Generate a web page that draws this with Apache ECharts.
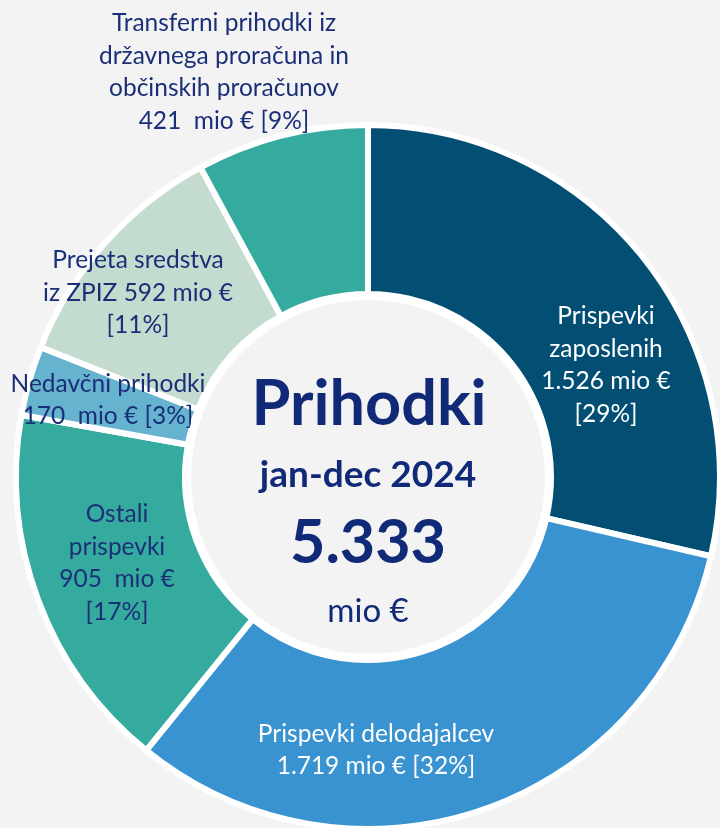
<!DOCTYPE html>
<html><head><meta charset="utf-8">
<script src="https://cdn.jsdelivr.net/npm/echarts@6/dist/echarts.min.js"></script>
<style>html,body{margin:0;padding:0;background:#f3f3f3}#c{width:720px;height:828px}</style>
</head><body><div id="c"></div>
<script>
const categories = ['Prispevki zaposlenih','Prispevki delodajalcev','Ostali prispevki','Nedavčni prihodki','Prejeta sredstva iz ZPIZ','Transferni prihodki iz državnega proračuna in občinskih proračunov'];
const values = [1526, 1719, 905, 170, 592, 421];
const percents = [29, 32, 17, 3, 11, 9];
const labelTexts = [
  'Prispevki\nzaposlenih\n1.526 mio €\n[29%]',
  'Prispevki delodajalcev\n1.719 mio € [32%]',
  'Ostali\nprispevki\n905  mio €\n[17%]',
  'Nedavčni prihodki\n170  mio € [3%]',
  'Prejeta sredstva\niz ZPIZ 592 mio €\n[11%]',
  'Transferni prihodki iz\ndržavnega proračuna in\nobčinskih proračunov\n421  mio € [9%]'
];
const totalValue = '5.333';

const colors = ['#024f73','#3893d0','#35ab9f','#66b3cf','#c4dcd0','#35ab9f'];
const labelColors = ['#ffffff','#ffffff','#1b2f78','#1b2f78','#1b2f78','#1b2f78'];
const labelPos = [[606,365],[376,750],[117,563],[108,400],[138,293],[224,72]];
const CX = 368, CY = 477;
const FONT = 'Lato, "Open Sans", sans-serif';

const chart = echarts.init(document.getElementById('c'));
chart.setOption({
  backgroundColor: '#f3f3f3',
  animation: false,
  series: [{
    type: 'pie',
    center: [CX, CY],
    radius: [183, 352],
    startAngle: 90,
    clockwise: true,
    silent: true,
    itemStyle: { borderColor: '#ffffff', borderWidth: 6 },
    label: { show: true, position: 'inside', fontFamily: FONT, fontSize: 24.5, lineHeight: 32.5, align: 'center' },
    labelLine: { show: false },
    labelLayout: function (p) {
      return { x: labelPos[p.dataIndex][0], y: labelPos[p.dataIndex][1], align: 'center', verticalAlign: 'middle' };
    },
    data: categories.map((n, i) => ({
      name: n,
      value: values[i],
      itemStyle: { color: colors[i] },
      label: { formatter: labelTexts[i], color: labelColors[i] }
    }))
  }],
  graphic: [
    { type: 'circle', z: 100, shape: { cx: CX, cy: CY, r: 181 }, style: { fill: '#f3f3f3', stroke: '#ffffff', lineWidth: 8 } },
    { type: 'text', z: 101, x: CX + 1, y: 405, style: { text: 'Prihodki', font: 'bold 63px ' + FONT, fill: '#102a78', align: 'center', verticalAlign: 'middle' } },
    { type: 'text', z: 101, x: CX, y: 475, style: { text: 'jan-dec 2024', font: 'bold 37px ' + FONT, fill: '#102a78', align: 'center', verticalAlign: 'middle' } },
    { type: 'text', z: 101, x: CX, y: 543, style: { text: totalValue, font: 'bold 61px ' + FONT, fill: '#102a78', align: 'center', verticalAlign: 'middle' } },
    { type: 'text', z: 101, x: CX, y: 611, style: { text: 'mio €', font: '33px ' + FONT, fill: '#102a78', align: 'center', verticalAlign: 'middle' } }
  ]
});
</script></body></html>
